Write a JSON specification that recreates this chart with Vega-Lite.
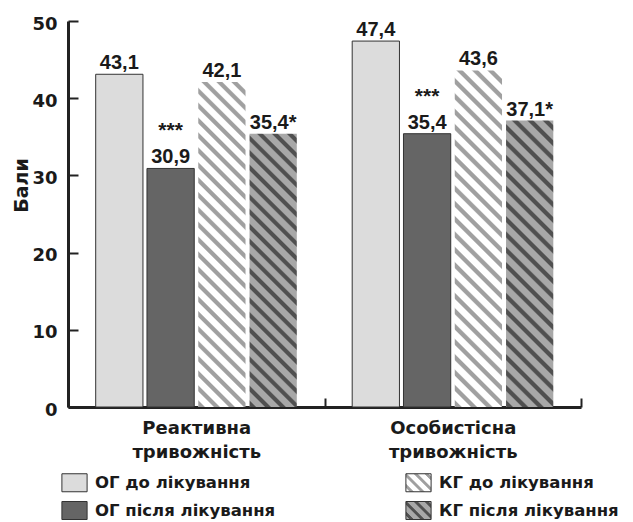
{
  "$schema": "https://vega.github.io/schema/vega-lite/v6.json",
  "width": 513,
  "height": 386,
  "autosize": {"type": "none"},
  "padding": {"left": 68, "top": 21, "right": 52, "bottom": 115},
  "background": "white",
  "config": {"view": {"stroke": null}},
  "data": {
    "values": [
      {"group": "Реактивна тривожність", "series": "ОГ до лікування", "value": 43.1, "label": "43,1", "sig": ""},
      {"group": "Реактивна тривожність", "series": "ОГ після лікування", "value": 30.9, "label": "30,9", "sig": "***"},
      {"group": "Реактивна тривожність", "series": "КГ до лікування", "value": 42.1, "label": "42,1", "sig": ""},
      {"group": "Реактивна тривожність", "series": "КГ після лікування", "value": 35.4, "label": "35,4*", "sig": ""},
      {"group": "Особистісна тривожність", "series": "ОГ до лікування", "value": 47.4, "label": "47,4", "sig": ""},
      {"group": "Особистісна тривожність", "series": "ОГ після лікування", "value": 35.4, "label": "35,4", "sig": "***"},
      {"group": "Особистісна тривожність", "series": "КГ до лікування", "value": 43.6, "label": "43,6", "sig": ""},
      {"group": "Особистісна тривожність", "series": "КГ після лікування", "value": 37.1, "label": "37,1*", "sig": ""}
    ]
  },
  "encoding": {
    "x": {
      "field": "group", "type": "nominal",
      "sort": ["Реактивна тривожність", "Особистісна тривожність"],
      "scale": {"paddingInner": 0, "paddingOuter": 0},
      "axis": {
        "title": null, "labelAngle": 0, "labelExpr": "split(datum.label, ' ')",
        "labelFont": "DejaVu Sans", "labelFontWeight": "bold", "labelFontSize": 18,
        "labelColor": "#1a1a1a", "labelLineHeight": 24, "labelBaseline": "top",
        "labelPadding": 21, "labelLimit": 300, "tickBand": "extent", "tickSize": -9,
        "tickWidth": 2, "tickColor": "#222222", "domainWidth": 3, "domainColor": "#222222"
      }
    },
    "xOffset": {
      "field": "series", "type": "nominal",
      "scale": {"domain": ["ОГ до лікування", "ОГ після лікування", "КГ до лікування", "КГ після лікування"], "paddingInner": 0.0784, "paddingOuter": 0.54}
    },
    "y": {
      "field": "value", "type": "quantitative",
      "scale": {"domain": [0, 50], "nice": false},
      "axis": {
        "title": "Бали", "values": [0, 10, 20, 30, 40, 50], "grid": false,
        "labelFont": "DejaVu Sans", "labelFontWeight": "bold", "labelFontSize": 18,
        "labelColor": "#1a1a1a", "labelPadding": 21, "labelOffset": 3,
        "tickSize": -10, "tickWidth": 2, "tickColor": "#222222",
        "domainWidth": 3, "domainColor": "#222222",
        "titleFont": "DejaVu Sans", "titleFontWeight": "bold", "titleFontSize": 19,
        "titleColor": "#1a1a1a", "titleAngle": 270, "titleX": -41, "titleY": 164,
        "titleAlign": "center", "titleBaseline": "alphabetic"
      }
    }
  },
  "layer": [
    {
      "transform": [{"filter": "indexof(datum.series, 'ОГ') === 0"}],
      "mark": {"type": "bar", "stroke": "#333333", "strokeWidth": 1},
      "encoding": {
        "color": {
          "field": "series", "type": "nominal",
          "scale": {
            "domain": ["ОГ до лікування", "ОГ після лікування", "КГ до лікування", "КГ після лікування"],
            "range": [
              "#dcdcdc",
              "#656565",
              {"expr": "{gradient:'linear',x1:0,y1:1,x2:1.135,y2:0.189,stops:[{offset:0.08,color:'#fff'},{offset:0.105,color:'#a0a0a0'},{offset:0.175,color:'#a0a0a0'},{offset:0.2,color:'#fff'},{offset:0.33,color:'#fff'},{offset:0.355,color:'#a0a0a0'},{offset:0.425,color:'#a0a0a0'},{offset:0.45,color:'#fff'},{offset:0.58,color:'#fff'},{offset:0.605,color:'#a0a0a0'},{offset:0.675,color:'#a0a0a0'},{offset:0.7,color:'#fff'},{offset:0.83,color:'#fff'},{offset:0.855,color:'#a0a0a0'},{offset:0.925,color:'#a0a0a0'},{offset:0.95,color:'#fff'}]}"},
              {"expr": "{gradient:'linear',x1:0,y1:1,x2:1.135,y2:0.189,stops:[{offset:0.08,color:'#a8a8a8'},{offset:0.105,color:'#505050'},{offset:0.175,color:'#505050'},{offset:0.2,color:'#a8a8a8'},{offset:0.33,color:'#a8a8a8'},{offset:0.355,color:'#505050'},{offset:0.425,color:'#505050'},{offset:0.45,color:'#a8a8a8'},{offset:0.58,color:'#a8a8a8'},{offset:0.605,color:'#505050'},{offset:0.675,color:'#505050'},{offset:0.7,color:'#a8a8a8'},{offset:0.83,color:'#a8a8a8'},{offset:0.855,color:'#505050'},{offset:0.925,color:'#505050'},{offset:0.95,color:'#a8a8a8'}]}"}
            ]
          },
          "legend": {
            "title": null, "orient": "none", "legendX": -3, "legendY": 452,
            "columns": 2, "columnPadding": 127, "rowPadding": 5, "padding": 0,
            "symbolType": "M-1.4,-1H1.4V1H-1.4Z", "symbolSize": 324, "symbolStrokeWidth": 1,
            "labelFont": "DejaVu Sans", "labelFontWeight": "bold", "labelFontSize": 16.5,
            "labelColor": "#1a1a1a", "labelLimit": 400, "labelOffset": 11,
            "encode": {
              "symbols": {
                "strokeOpacity": {"value": {"expr": "indexof(datum.value, 'ОГ') === 0 ? 1 : 0"}}
              }
            }
          }
        }
      }
    },
    {
      "transform": [{"filter": "datum.series === 'КГ до лікування' && datum.group === 'Реактивна тривожність'"}],
      "mark": {"type": "bar", "strokeWidth": 0, "fill": {"gradient": "linear", "x1": 0, "y1": 1, "x2": 0.1621, "y2": -0.1212, "stops": [
        {"offset": 0, "color": "#fff"}, {"offset": 0.004, "color": "#a0a0a0"}, {"offset": 0.016, "color": "#a0a0a0"}, {"offset": 0.02, "color": "#fff"},
        {"offset": 0.04, "color": "#fff"}, {"offset": 0.044, "color": "#a0a0a0"}, {"offset": 0.056, "color": "#a0a0a0"}, {"offset": 0.06, "color": "#fff"},
        {"offset": 0.08, "color": "#fff"}, {"offset": 0.084, "color": "#a0a0a0"}, {"offset": 0.096, "color": "#a0a0a0"}, {"offset": 0.1, "color": "#fff"},
        {"offset": 0.12, "color": "#fff"}, {"offset": 0.124, "color": "#a0a0a0"}, {"offset": 0.136, "color": "#a0a0a0"}, {"offset": 0.14, "color": "#fff"},
        {"offset": 0.16, "color": "#fff"}, {"offset": 0.164, "color": "#a0a0a0"}, {"offset": 0.176, "color": "#a0a0a0"}, {"offset": 0.18, "color": "#fff"},
        {"offset": 0.2, "color": "#fff"}, {"offset": 0.204, "color": "#a0a0a0"}, {"offset": 0.216, "color": "#a0a0a0"}, {"offset": 0.22, "color": "#fff"},
        {"offset": 0.24, "color": "#fff"}, {"offset": 0.244, "color": "#a0a0a0"}, {"offset": 0.256, "color": "#a0a0a0"}, {"offset": 0.26, "color": "#fff"},
        {"offset": 0.28, "color": "#fff"}, {"offset": 0.284, "color": "#a0a0a0"}, {"offset": 0.296, "color": "#a0a0a0"}, {"offset": 0.3, "color": "#fff"},
        {"offset": 0.32, "color": "#fff"}, {"offset": 0.324, "color": "#a0a0a0"}, {"offset": 0.336, "color": "#a0a0a0"}, {"offset": 0.34, "color": "#fff"},
        {"offset": 0.36, "color": "#fff"}, {"offset": 0.364, "color": "#a0a0a0"}, {"offset": 0.376, "color": "#a0a0a0"}, {"offset": 0.38, "color": "#fff"},
        {"offset": 0.4, "color": "#fff"}, {"offset": 0.404, "color": "#a0a0a0"}, {"offset": 0.416, "color": "#a0a0a0"}, {"offset": 0.42, "color": "#fff"},
        {"offset": 0.44, "color": "#fff"}, {"offset": 0.444, "color": "#a0a0a0"}, {"offset": 0.456, "color": "#a0a0a0"}, {"offset": 0.46, "color": "#fff"},
        {"offset": 0.48, "color": "#fff"}, {"offset": 0.484, "color": "#a0a0a0"}, {"offset": 0.496, "color": "#a0a0a0"}, {"offset": 0.5, "color": "#fff"},
        {"offset": 0.52, "color": "#fff"}, {"offset": 0.524, "color": "#a0a0a0"}, {"offset": 0.536, "color": "#a0a0a0"}, {"offset": 0.54, "color": "#fff"},
        {"offset": 0.56, "color": "#fff"}, {"offset": 0.564, "color": "#a0a0a0"}, {"offset": 0.576, "color": "#a0a0a0"}, {"offset": 0.58, "color": "#fff"},
        {"offset": 0.6, "color": "#fff"}, {"offset": 0.604, "color": "#a0a0a0"}, {"offset": 0.616, "color": "#a0a0a0"}, {"offset": 0.62, "color": "#fff"},
        {"offset": 0.64, "color": "#fff"}, {"offset": 0.644, "color": "#a0a0a0"}, {"offset": 0.656, "color": "#a0a0a0"}, {"offset": 0.66, "color": "#fff"},
        {"offset": 0.68, "color": "#fff"}, {"offset": 0.684, "color": "#a0a0a0"}, {"offset": 0.696, "color": "#a0a0a0"}, {"offset": 0.7, "color": "#fff"},
        {"offset": 0.72, "color": "#fff"}, {"offset": 0.724, "color": "#a0a0a0"}, {"offset": 0.736, "color": "#a0a0a0"}, {"offset": 0.74, "color": "#fff"},
        {"offset": 0.76, "color": "#fff"}, {"offset": 0.764, "color": "#a0a0a0"}, {"offset": 0.776, "color": "#a0a0a0"}, {"offset": 0.78, "color": "#fff"},
        {"offset": 0.8, "color": "#fff"}, {"offset": 0.804, "color": "#a0a0a0"}, {"offset": 0.816, "color": "#a0a0a0"}, {"offset": 0.82, "color": "#fff"},
        {"offset": 0.84, "color": "#fff"}, {"offset": 0.844, "color": "#a0a0a0"}, {"offset": 0.856, "color": "#a0a0a0"}, {"offset": 0.86, "color": "#fff"},
        {"offset": 0.88, "color": "#fff"}, {"offset": 0.884, "color": "#a0a0a0"}, {"offset": 0.896, "color": "#a0a0a0"}, {"offset": 0.9, "color": "#fff"},
        {"offset": 0.92, "color": "#fff"}, {"offset": 0.924, "color": "#a0a0a0"}, {"offset": 0.936, "color": "#a0a0a0"}, {"offset": 0.94, "color": "#fff"},
        {"offset": 0.96, "color": "#fff"}, {"offset": 0.964, "color": "#a0a0a0"}, {"offset": 0.976, "color": "#a0a0a0"}, {"offset": 0.98, "color": "#fff"}
      ]}}
    },
    {
      "transform": [{"filter": "datum.series === 'КГ до лікування' && datum.group === 'Особистісна тривожність'"}],
      "mark": {"type": "bar", "strokeWidth": 0, "fill": {"gradient": "linear", "x1": 0, "y1": 1, "x2": 0.1561, "y2": -0.1178, "stops": [
        {"offset": 0, "color": "#fff"}, {"offset": 0.004, "color": "#a0a0a0"}, {"offset": 0.016, "color": "#a0a0a0"}, {"offset": 0.02, "color": "#fff"},
        {"offset": 0.04, "color": "#fff"}, {"offset": 0.044, "color": "#a0a0a0"}, {"offset": 0.056, "color": "#a0a0a0"}, {"offset": 0.06, "color": "#fff"},
        {"offset": 0.08, "color": "#fff"}, {"offset": 0.084, "color": "#a0a0a0"}, {"offset": 0.096, "color": "#a0a0a0"}, {"offset": 0.1, "color": "#fff"},
        {"offset": 0.12, "color": "#fff"}, {"offset": 0.124, "color": "#a0a0a0"}, {"offset": 0.136, "color": "#a0a0a0"}, {"offset": 0.14, "color": "#fff"},
        {"offset": 0.16, "color": "#fff"}, {"offset": 0.164, "color": "#a0a0a0"}, {"offset": 0.176, "color": "#a0a0a0"}, {"offset": 0.18, "color": "#fff"},
        {"offset": 0.2, "color": "#fff"}, {"offset": 0.204, "color": "#a0a0a0"}, {"offset": 0.216, "color": "#a0a0a0"}, {"offset": 0.22, "color": "#fff"},
        {"offset": 0.24, "color": "#fff"}, {"offset": 0.244, "color": "#a0a0a0"}, {"offset": 0.256, "color": "#a0a0a0"}, {"offset": 0.26, "color": "#fff"},
        {"offset": 0.28, "color": "#fff"}, {"offset": 0.284, "color": "#a0a0a0"}, {"offset": 0.296, "color": "#a0a0a0"}, {"offset": 0.3, "color": "#fff"},
        {"offset": 0.32, "color": "#fff"}, {"offset": 0.324, "color": "#a0a0a0"}, {"offset": 0.336, "color": "#a0a0a0"}, {"offset": 0.34, "color": "#fff"},
        {"offset": 0.36, "color": "#fff"}, {"offset": 0.364, "color": "#a0a0a0"}, {"offset": 0.376, "color": "#a0a0a0"}, {"offset": 0.38, "color": "#fff"},
        {"offset": 0.4, "color": "#fff"}, {"offset": 0.404, "color": "#a0a0a0"}, {"offset": 0.416, "color": "#a0a0a0"}, {"offset": 0.42, "color": "#fff"},
        {"offset": 0.44, "color": "#fff"}, {"offset": 0.444, "color": "#a0a0a0"}, {"offset": 0.456, "color": "#a0a0a0"}, {"offset": 0.46, "color": "#fff"},
        {"offset": 0.48, "color": "#fff"}, {"offset": 0.484, "color": "#a0a0a0"}, {"offset": 0.496, "color": "#a0a0a0"}, {"offset": 0.5, "color": "#fff"},
        {"offset": 0.52, "color": "#fff"}, {"offset": 0.524, "color": "#a0a0a0"}, {"offset": 0.536, "color": "#a0a0a0"}, {"offset": 0.54, "color": "#fff"},
        {"offset": 0.56, "color": "#fff"}, {"offset": 0.564, "color": "#a0a0a0"}, {"offset": 0.576, "color": "#a0a0a0"}, {"offset": 0.58, "color": "#fff"},
        {"offset": 0.6, "color": "#fff"}, {"offset": 0.604, "color": "#a0a0a0"}, {"offset": 0.616, "color": "#a0a0a0"}, {"offset": 0.62, "color": "#fff"},
        {"offset": 0.64, "color": "#fff"}, {"offset": 0.644, "color": "#a0a0a0"}, {"offset": 0.656, "color": "#a0a0a0"}, {"offset": 0.66, "color": "#fff"},
        {"offset": 0.68, "color": "#fff"}, {"offset": 0.684, "color": "#a0a0a0"}, {"offset": 0.696, "color": "#a0a0a0"}, {"offset": 0.7, "color": "#fff"},
        {"offset": 0.72, "color": "#fff"}, {"offset": 0.724, "color": "#a0a0a0"}, {"offset": 0.736, "color": "#a0a0a0"}, {"offset": 0.74, "color": "#fff"},
        {"offset": 0.76, "color": "#fff"}, {"offset": 0.764, "color": "#a0a0a0"}, {"offset": 0.776, "color": "#a0a0a0"}, {"offset": 0.78, "color": "#fff"},
        {"offset": 0.8, "color": "#fff"}, {"offset": 0.804, "color": "#a0a0a0"}, {"offset": 0.816, "color": "#a0a0a0"}, {"offset": 0.82, "color": "#fff"},
        {"offset": 0.84, "color": "#fff"}, {"offset": 0.844, "color": "#a0a0a0"}, {"offset": 0.856, "color": "#a0a0a0"}, {"offset": 0.86, "color": "#fff"},
        {"offset": 0.88, "color": "#fff"}, {"offset": 0.884, "color": "#a0a0a0"}, {"offset": 0.896, "color": "#a0a0a0"}, {"offset": 0.9, "color": "#fff"},
        {"offset": 0.92, "color": "#fff"}, {"offset": 0.924, "color": "#a0a0a0"}, {"offset": 0.936, "color": "#a0a0a0"}, {"offset": 0.94, "color": "#fff"},
        {"offset": 0.96, "color": "#fff"}, {"offset": 0.964, "color": "#a0a0a0"}, {"offset": 0.976, "color": "#a0a0a0"}, {"offset": 0.98, "color": "#fff"}
      ]}}
    },
    {
      "transform": [{"filter": "datum.series === 'КГ після лікування' && datum.group === 'Реактивна тривожність'"}],
      "mark": {"type": "bar", "strokeWidth": 0, "fill": {"gradient": "linear", "x1": 0, "y1": 1, "x2": 0.1958, "y2": -0.1383, "stops": [
        {"offset": 0, "color": "#a8a8a8"}, {"offset": 0.005, "color": "#505050"}, {"offset": 0.018, "color": "#505050"}, {"offset": 0.023, "color": "#a8a8a8"},
        {"offset": 0.046, "color": "#a8a8a8"}, {"offset": 0.051, "color": "#505050"}, {"offset": 0.064, "color": "#505050"}, {"offset": 0.069, "color": "#a8a8a8"},
        {"offset": 0.092, "color": "#a8a8a8"}, {"offset": 0.097, "color": "#505050"}, {"offset": 0.11, "color": "#505050"}, {"offset": 0.115, "color": "#a8a8a8"},
        {"offset": 0.138, "color": "#a8a8a8"}, {"offset": 0.143, "color": "#505050"}, {"offset": 0.156, "color": "#505050"}, {"offset": 0.161, "color": "#a8a8a8"},
        {"offset": 0.184, "color": "#a8a8a8"}, {"offset": 0.189, "color": "#505050"}, {"offset": 0.202, "color": "#505050"}, {"offset": 0.207, "color": "#a8a8a8"},
        {"offset": 0.23, "color": "#a8a8a8"}, {"offset": 0.235, "color": "#505050"}, {"offset": 0.248, "color": "#505050"}, {"offset": 0.253, "color": "#a8a8a8"},
        {"offset": 0.276, "color": "#a8a8a8"}, {"offset": 0.281, "color": "#505050"}, {"offset": 0.294, "color": "#505050"}, {"offset": 0.299, "color": "#a8a8a8"},
        {"offset": 0.322, "color": "#a8a8a8"}, {"offset": 0.327, "color": "#505050"}, {"offset": 0.34, "color": "#505050"}, {"offset": 0.345, "color": "#a8a8a8"},
        {"offset": 0.368, "color": "#a8a8a8"}, {"offset": 0.373, "color": "#505050"}, {"offset": 0.386, "color": "#505050"}, {"offset": 0.391, "color": "#a8a8a8"},
        {"offset": 0.414, "color": "#a8a8a8"}, {"offset": 0.419, "color": "#505050"}, {"offset": 0.432, "color": "#505050"}, {"offset": 0.437, "color": "#a8a8a8"},
        {"offset": 0.46, "color": "#a8a8a8"}, {"offset": 0.465, "color": "#505050"}, {"offset": 0.478, "color": "#505050"}, {"offset": 0.483, "color": "#a8a8a8"},
        {"offset": 0.506, "color": "#a8a8a8"}, {"offset": 0.511, "color": "#505050"}, {"offset": 0.524, "color": "#505050"}, {"offset": 0.529, "color": "#a8a8a8"},
        {"offset": 0.552, "color": "#a8a8a8"}, {"offset": 0.557, "color": "#505050"}, {"offset": 0.57, "color": "#505050"}, {"offset": 0.575, "color": "#a8a8a8"},
        {"offset": 0.598, "color": "#a8a8a8"}, {"offset": 0.603, "color": "#505050"}, {"offset": 0.616, "color": "#505050"}, {"offset": 0.621, "color": "#a8a8a8"},
        {"offset": 0.644, "color": "#a8a8a8"}, {"offset": 0.649, "color": "#505050"}, {"offset": 0.662, "color": "#505050"}, {"offset": 0.667, "color": "#a8a8a8"},
        {"offset": 0.69, "color": "#a8a8a8"}, {"offset": 0.695, "color": "#505050"}, {"offset": 0.708, "color": "#505050"}, {"offset": 0.713, "color": "#a8a8a8"},
        {"offset": 0.736, "color": "#a8a8a8"}, {"offset": 0.741, "color": "#505050"}, {"offset": 0.754, "color": "#505050"}, {"offset": 0.759, "color": "#a8a8a8"},
        {"offset": 0.782, "color": "#a8a8a8"}, {"offset": 0.787, "color": "#505050"}, {"offset": 0.8, "color": "#505050"}, {"offset": 0.805, "color": "#a8a8a8"},
        {"offset": 0.828, "color": "#a8a8a8"}, {"offset": 0.833, "color": "#505050"}, {"offset": 0.846, "color": "#505050"}, {"offset": 0.851, "color": "#a8a8a8"},
        {"offset": 0.874, "color": "#a8a8a8"}, {"offset": 0.879, "color": "#505050"}, {"offset": 0.892, "color": "#505050"}, {"offset": 0.897, "color": "#a8a8a8"},
        {"offset": 0.92, "color": "#a8a8a8"}, {"offset": 0.925, "color": "#505050"}, {"offset": 0.938, "color": "#505050"}, {"offset": 0.943, "color": "#a8a8a8"},
        {"offset": 0.966, "color": "#a8a8a8"}, {"offset": 0.971, "color": "#505050"}, {"offset": 0.984, "color": "#505050"}, {"offset": 0.989, "color": "#a8a8a8"}
      ]}}
    },
    {
      "transform": [{"filter": "datum.series === 'КГ після лікування' && datum.group === 'Особистісна тривожність'"}],
      "mark": {"type": "bar", "strokeWidth": 0, "fill": {"gradient": "linear", "x1": 0, "y1": 1, "x2": 0.186, "y2": -0.1336, "stops": [
        {"offset": 0, "color": "#a8a8a8"}, {"offset": 0.005, "color": "#505050"}, {"offset": 0.018, "color": "#505050"}, {"offset": 0.023, "color": "#a8a8a8"},
        {"offset": 0.046, "color": "#a8a8a8"}, {"offset": 0.051, "color": "#505050"}, {"offset": 0.064, "color": "#505050"}, {"offset": 0.069, "color": "#a8a8a8"},
        {"offset": 0.092, "color": "#a8a8a8"}, {"offset": 0.097, "color": "#505050"}, {"offset": 0.11, "color": "#505050"}, {"offset": 0.115, "color": "#a8a8a8"},
        {"offset": 0.138, "color": "#a8a8a8"}, {"offset": 0.143, "color": "#505050"}, {"offset": 0.156, "color": "#505050"}, {"offset": 0.161, "color": "#a8a8a8"},
        {"offset": 0.184, "color": "#a8a8a8"}, {"offset": 0.189, "color": "#505050"}, {"offset": 0.202, "color": "#505050"}, {"offset": 0.207, "color": "#a8a8a8"},
        {"offset": 0.23, "color": "#a8a8a8"}, {"offset": 0.235, "color": "#505050"}, {"offset": 0.248, "color": "#505050"}, {"offset": 0.253, "color": "#a8a8a8"},
        {"offset": 0.276, "color": "#a8a8a8"}, {"offset": 0.281, "color": "#505050"}, {"offset": 0.294, "color": "#505050"}, {"offset": 0.299, "color": "#a8a8a8"},
        {"offset": 0.322, "color": "#a8a8a8"}, {"offset": 0.327, "color": "#505050"}, {"offset": 0.34, "color": "#505050"}, {"offset": 0.345, "color": "#a8a8a8"},
        {"offset": 0.368, "color": "#a8a8a8"}, {"offset": 0.373, "color": "#505050"}, {"offset": 0.386, "color": "#505050"}, {"offset": 0.391, "color": "#a8a8a8"},
        {"offset": 0.414, "color": "#a8a8a8"}, {"offset": 0.419, "color": "#505050"}, {"offset": 0.432, "color": "#505050"}, {"offset": 0.437, "color": "#a8a8a8"},
        {"offset": 0.46, "color": "#a8a8a8"}, {"offset": 0.465, "color": "#505050"}, {"offset": 0.478, "color": "#505050"}, {"offset": 0.483, "color": "#a8a8a8"},
        {"offset": 0.506, "color": "#a8a8a8"}, {"offset": 0.511, "color": "#505050"}, {"offset": 0.524, "color": "#505050"}, {"offset": 0.529, "color": "#a8a8a8"},
        {"offset": 0.552, "color": "#a8a8a8"}, {"offset": 0.557, "color": "#505050"}, {"offset": 0.57, "color": "#505050"}, {"offset": 0.575, "color": "#a8a8a8"},
        {"offset": 0.598, "color": "#a8a8a8"}, {"offset": 0.603, "color": "#505050"}, {"offset": 0.616, "color": "#505050"}, {"offset": 0.621, "color": "#a8a8a8"},
        {"offset": 0.644, "color": "#a8a8a8"}, {"offset": 0.649, "color": "#505050"}, {"offset": 0.662, "color": "#505050"}, {"offset": 0.667, "color": "#a8a8a8"},
        {"offset": 0.69, "color": "#a8a8a8"}, {"offset": 0.695, "color": "#505050"}, {"offset": 0.708, "color": "#505050"}, {"offset": 0.713, "color": "#a8a8a8"},
        {"offset": 0.736, "color": "#a8a8a8"}, {"offset": 0.741, "color": "#505050"}, {"offset": 0.754, "color": "#505050"}, {"offset": 0.759, "color": "#a8a8a8"},
        {"offset": 0.782, "color": "#a8a8a8"}, {"offset": 0.787, "color": "#505050"}, {"offset": 0.8, "color": "#505050"}, {"offset": 0.805, "color": "#a8a8a8"},
        {"offset": 0.828, "color": "#a8a8a8"}, {"offset": 0.833, "color": "#505050"}, {"offset": 0.846, "color": "#505050"}, {"offset": 0.851, "color": "#a8a8a8"},
        {"offset": 0.874, "color": "#a8a8a8"}, {"offset": 0.879, "color": "#505050"}, {"offset": 0.892, "color": "#505050"}, {"offset": 0.897, "color": "#a8a8a8"},
        {"offset": 0.92, "color": "#a8a8a8"}, {"offset": 0.925, "color": "#505050"}, {"offset": 0.938, "color": "#505050"}, {"offset": 0.943, "color": "#a8a8a8"},
        {"offset": 0.966, "color": "#a8a8a8"}, {"offset": 0.971, "color": "#505050"}, {"offset": 0.984, "color": "#505050"}, {"offset": 0.989, "color": "#a8a8a8"}
      ]}}
    },
    {
      "mark": {"type": "text", "font": "Liberation Sans", "fontWeight": "bold", "fontSize": 20, "baseline": "alphabetic", "align": "center", "dy": -5, "color": "#1a1a1a"},
      "encoding": {"text": {"field": "label", "type": "nominal"}}
    },
    {
      "transform": [{"filter": "datum.sig !== ''"}],
      "mark": {"type": "text", "font": "Liberation Sans", "fontWeight": "bold", "fontSize": 21, "baseline": "alphabetic", "align": "center", "dy": -31, "color": "#1a1a1a"},
      "encoding": {"text": {"field": "sig", "type": "nominal"}}
    }
  ]
}
